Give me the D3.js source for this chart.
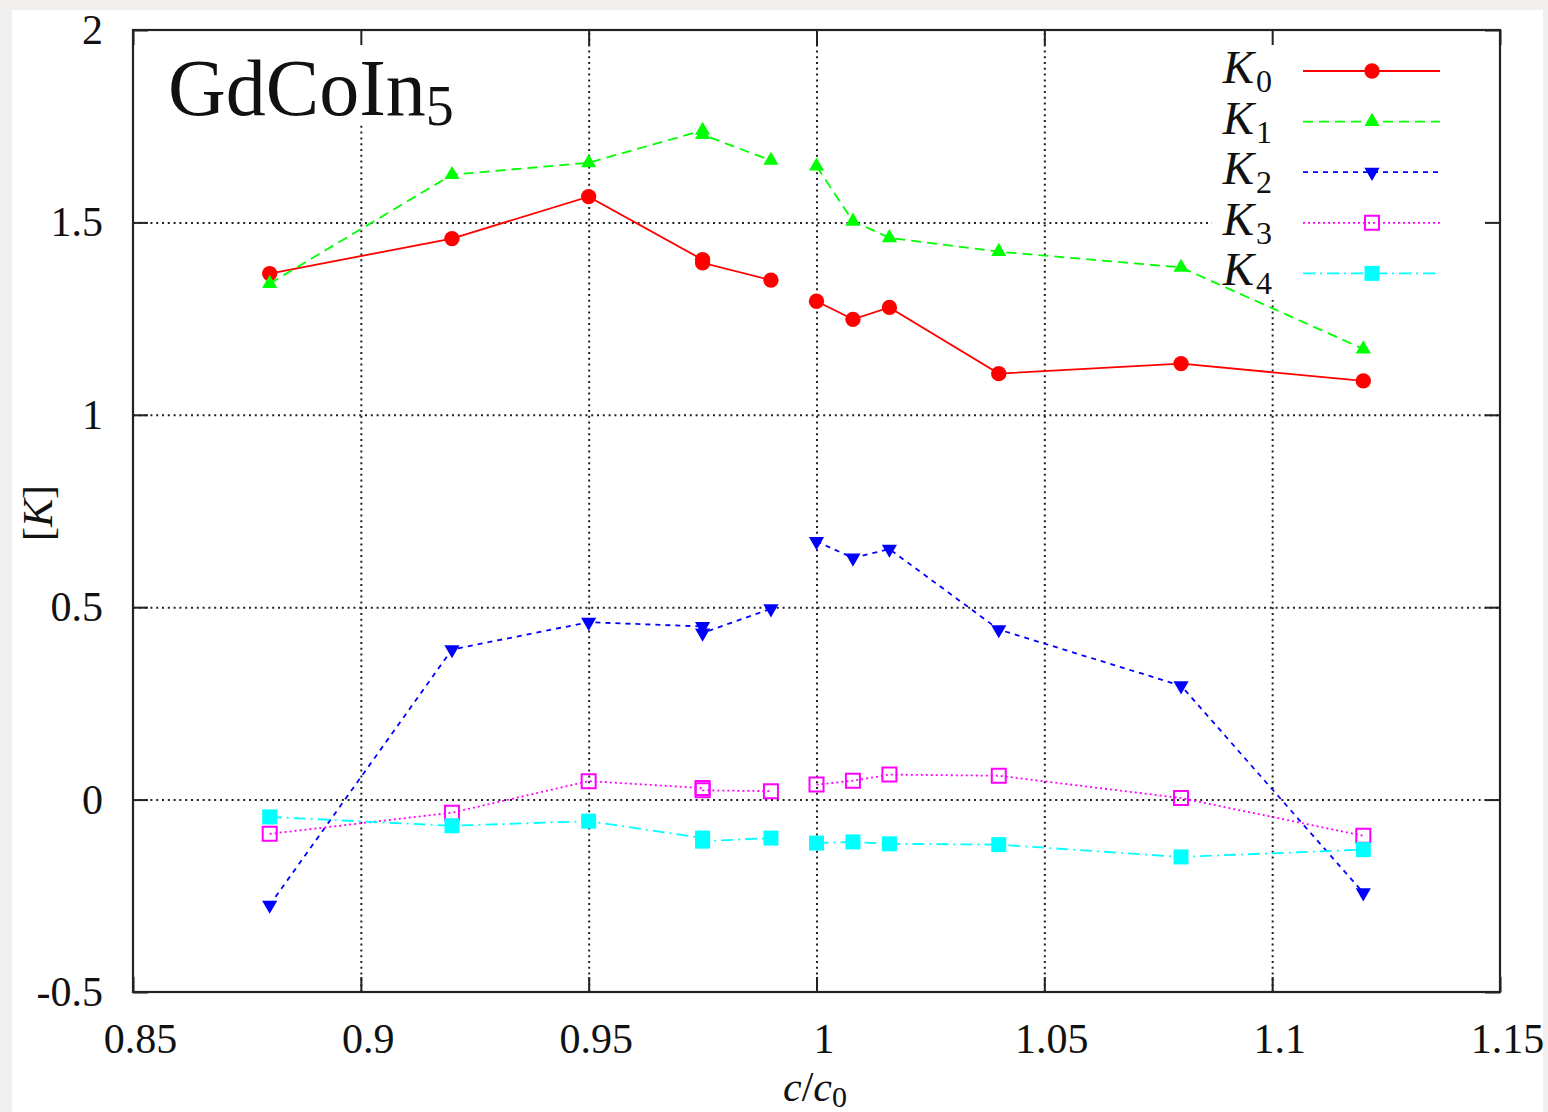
<!DOCTYPE html>
<html>
<head>
<meta charset="utf-8">
<script src="https://cdn.jsdelivr.net/npm/d3@7"></script>
<style>
  html, body { margin: 0; padding: 0; background: #f0efed; }
  svg { display: block; }
  text { font-family: "Liberation Serif", "Times New Roman", serif; fill: #111; }
</style>
</head>
<body>
<svg id="chart" width="1548" height="1112"></svg>
<script>
// ---- data ----
const cRatio  = [0.88, 0.92, 0.95, 0.975, 0.975, 0.99, 1.0, 1.008, 1.016, 1.04, 1.08, 1.12];
const segment = [0, 0, 0, 0, 0, 0, 1, 1, 1, 1, 1, 1];
const K0 = [1.367, 1.458, 1.567, 1.403, 1.395, 1.350, 1.295, 1.248, 1.279, 1.107, 1.133, 1.088];
const K1 = [1.341, 1.624, 1.655, 1.739, 1.728, 1.661, 1.646, 1.503, 1.460, 1.424, 1.383, 1.171];
const K2 = [-0.274, 0.390, 0.461, 0.450, 0.433, 0.496, 0.671, 0.628, 0.651, 0.442, 0.296, -0.242];
const K3 = [-0.089, -0.034, 0.048, 0.030, 0.024, 0.022, 0.039, 0.049, 0.065, 0.062, 0.004, -0.094];
const K4 = [-0.045, -0.068, -0.056, -0.100, -0.108, -0.100, -0.113, -0.110, -0.115, -0.117, -0.149, -0.130];
const seriesNames = ["0", "1", "2", "3", "4"];
const xTicks = [0.85, 0.9, 0.95, 1.0, 1.05, 1.1, 1.15];
const yTicks = [-0.5, 0, 0.5, 1, 1.5, 2];
const titleMain = "GdCoIn";
const titleSub = "5";

// ---- styles ----
const styles = [
  { color: "#ff0000", dash: null,        marker: "circle" },
  { color: "#00ff00", dash: "10,6",      marker: "triUp" },
  { color: "#0000ff", dash: "5,5",       marker: "triDown" },
  { color: "#ff00ff", dash: "2,3",       marker: "squareOpen" },
  { color: "#00ffff", dash: "12,5,2,5",  marker: "squareFilled" }
];
const seriesValues = [K0, K1, K2, K3, K4];

const svg = d3.select("#chart");
const W = 1548, H = 1112;
const box = { left: 133, right: 1500, top: 30, bottom: 992 };

svg.append("rect").attr("x", 0).attr("y", 0).attr("width", W).attr("height", H).attr("fill", "#f0efed");
svg.append("rect").attr("x", 12).attr("y", 10).attr("width", 1531).attr("height", H - 10).attr("fill", "#ffffff");

const x = d3.scaleLinear().domain([0.85, 1.15]).range([box.left, box.right]);
const y = d3.scaleLinear().domain([-0.5, 2]).range([box.bottom, box.top]);
const plotW = box.right - box.left, plotH = box.bottom - box.top;

const fmt = d => String(+d.toFixed(2));

// grid
const gridX = svg.append("g").attr("transform", `translate(0,${box.bottom})`)
  .call(d3.axisBottom(x).tickValues(xTicks.slice(1, -1)).tickSize(-plotH).tickFormat(""));
const gridY = svg.append("g").attr("transform", `translate(${box.left},0)`)
  .call(d3.axisLeft(y).tickValues(yTicks.slice(1, -1)).tickSize(-plotW).tickFormat(""));
[gridX, gridY].forEach(g => {
  g.select(".domain").remove();
  g.selectAll("line").attr("stroke", "#222").attr("stroke-width", 2).attr("stroke-dasharray", "2,3.8");
});

// opaque title and legend areas
svg.append("rect").attr("x", 160).attr("y", 33).attr("width", 305).attr("height", 92).attr("fill", "#fff");
svg.append("rect").attr("x", 1212).attr("y", 33).attr("width", 286).attr("height", 267).attr("fill", "#fff");

// axes (inward ticks)
const axB = svg.append("g").attr("transform", `translate(0,${box.bottom})`)
  .call(d3.axisBottom(x).tickValues(xTicks).tickSize(-15).tickPadding(31).tickFormat(fmt));
const axT = svg.append("g").attr("transform", `translate(0,${box.top})`)
  .call(d3.axisTop(x).tickValues(xTicks).tickSize(-15).tickFormat(""));
const axL = svg.append("g").attr("transform", `translate(${box.left},0)`)
  .call(d3.axisLeft(y).tickValues(yTicks).tickSize(-15).tickPadding(30).tickFormat(fmt));
const axR = svg.append("g").attr("transform", `translate(${box.right},0)`)
  .call(d3.axisRight(y).tickValues(yTicks).tickSize(-15).tickFormat(""));
[axB, axT, axL, axR].forEach(g => {
  g.select(".domain").remove();
  g.selectAll("line").attr("stroke", "#222").attr("stroke-width", 2);
  g.selectAll("text").attr("font-size", 42).attr("font-family", "Liberation Serif, serif").attr("fill", "#111");
});
axB.selectAll("text").attr("dx", 7);

// frame
svg.append("rect").attr("x", box.left).attr("y", box.top).attr("width", plotW).attr("height", plotH)
  .attr("fill", "none").attr("stroke", "#222").attr("stroke-width", 2.2);

function drawMarker(g, type, color, px, py) {
  if (type === "circle") {
    g.append("path").attr("d", d3.symbol(d3.symbolCircle, 185)()).attr("transform", `translate(${px},${py})`).attr("fill", color);
  } else if (type === "triUp") {
    g.append("path").attr("d", d3.symbol(d3.symbolTriangle, 100)()).attr("transform", `translate(${px},${py})`).attr("fill", color);
  } else if (type === "triDown") {
    g.append("path").attr("d", d3.symbol(d3.symbolTriangle, 100)()).attr("transform", `translate(${px},${py}) rotate(180)`).attr("fill", color);
  } else if (type === "squareOpen") {
    g.append("path").attr("d", d3.symbol(d3.symbolSquare, 196)()).attr("transform", `translate(${px},${py})`)
      .attr("fill", "none").attr("stroke", color).attr("stroke-width", 2);
  } else if (type === "squareFilled") {
    g.append("path").attr("d", d3.symbol(d3.symbolSquare, 225)()).attr("transform", `translate(${px},${py})`).attr("fill", color);
  }
}

const line = d3.line().x(d => x(d.c)).y(d => y(d.v));
seriesValues.forEach((vals, si) => {
  const st = styles[si];
  const g = svg.append("g");
  const pts = cRatio.map((c, i) => ({ c, v: vals[i], s: segment[i] }));
  d3.groups(pts, d => d.s).forEach(([, segPts]) => {
    g.append("path").attr("d", line(segPts)).attr("fill", "none")
      .attr("stroke", st.color).attr("stroke-width", 1.8)
      .attr("stroke-dasharray", st.dash);
  });
  pts.forEach(p => drawMarker(g, st.marker, st.color, x(p.c), y(p.v)));
});

// legend
const legY0 = 71, legDY = 50.6;
seriesNames.forEach((n, i) => {
  const st = styles[i];
  const ly = legY0 + i * legDY;
  const g = svg.append("g");
  g.append("line").attr("x1", 1303).attr("x2", 1440).attr("y1", ly).attr("y2", ly)
    .attr("stroke", st.color).attr("stroke-width", 1.8).attr("stroke-dasharray", st.dash);
  drawMarker(g, st.marker, st.color, 1372, ly);
  const t = g.append("text").attr("x", 1272).attr("y", ly + 12).attr("text-anchor", "end").attr("font-size", 47);
  t.append("tspan").attr("font-style", "italic").text("K");
  t.append("tspan").attr("font-size", 32).attr("dx", 2).attr("dy", 9).text(n);
});

// title
const tt = svg.append("text").attr("x", 168).attr("y", 115).attr("font-size", 80);
tt.append("tspan").text(titleMain);
tt.append("tspan").attr("font-size", 56).attr("dy", 10).text(titleSub);

// axis labels
const xl = svg.append("text").attr("x", 815).attr("y", 1101).attr("text-anchor", "middle").attr("font-size", 42);
xl.append("tspan").attr("font-style", "italic").text("c");
xl.append("tspan").text("/");
xl.append("tspan").attr("font-style", "italic").text("c");
xl.append("tspan").attr("font-size", 30).attr("dy", 6).text("0");

const yl = svg.append("text").attr("transform", "translate(52,513) rotate(-90)").attr("text-anchor", "middle").attr("font-size", 42);
yl.append("tspan").text("[");
yl.append("tspan").attr("font-style", "italic").text("K");
yl.append("tspan").text("]");
</script>
</body>
</html>
